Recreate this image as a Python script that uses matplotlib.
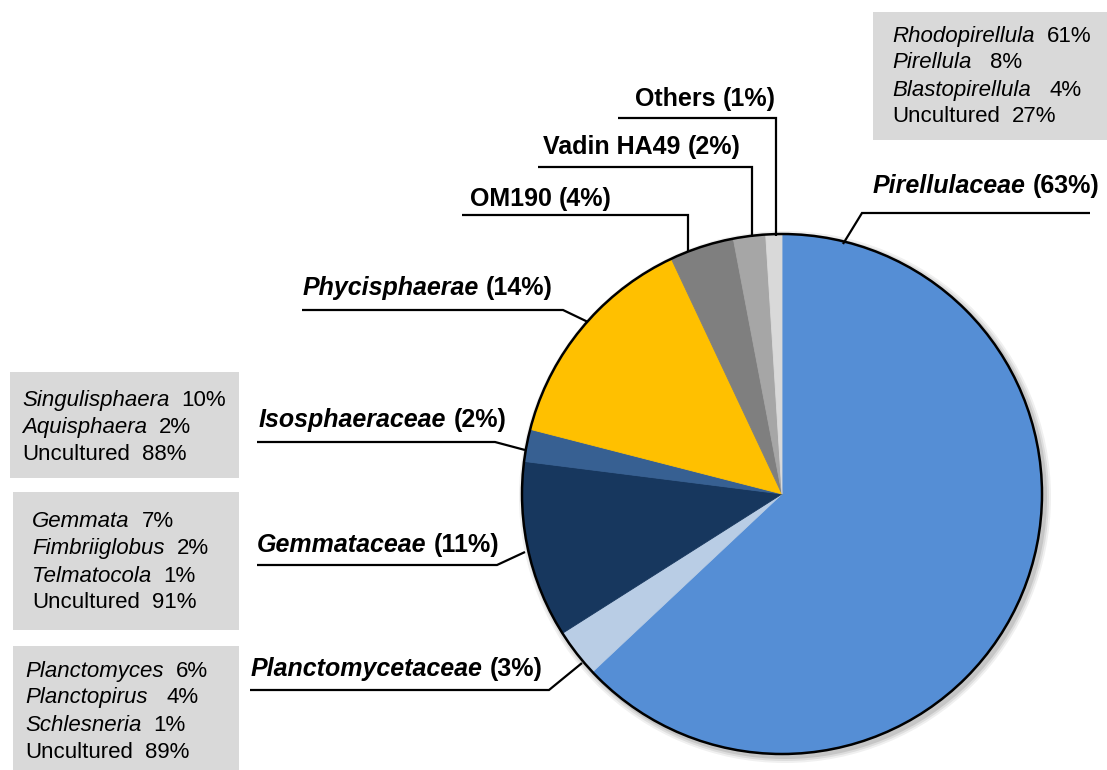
import matplotlib
matplotlib.use('Agg')
import matplotlib.pyplot as plt
from matplotlib.patches import Circle, Rectangle

# ---------------- data ----------------
groups = ['Pirellulaceae', 'Planctomycetaceae', 'Gemmataceae', 'Isosphaeraceae',
          'Phycisphaerae', 'OM190', 'Vadin HA49', 'Others']
percent = [63, 3, 11, 2, 14, 4, 2, 1]
italic_name = [True, True, True, True, True, False, False, False]
colors = ['#558ED5', '#B9CDE5', '#17375E', '#376092',
          '#FFC000', '#7F7F7F', '#A6A6A6', '#D9D9D9']

pirellulaceae_genera = ['Rhodopirellula', 'Pirellula', 'Blastopirellula', 'Uncultured']
pirellulaceae_pct = [61, 8, 4, 27]
isosphaeraceae_genera = ['Singulisphaera', 'Aquisphaera', 'Uncultured']
isosphaeraceae_pct = [10, 2, 88]
gemmataceae_genera = ['Gemmata', 'Fimbriiglobus', 'Telmatocola', 'Uncultured']
gemmataceae_pct = [7, 2, 1, 91]
planctomycetaceae_genera = ['Planctomyces', 'Planctopirus', 'Schlesneria', 'Uncultured']
planctomycetaceae_pct = [6, 4, 1, 89]

# ---------------- layout ----------------
W, H = 1107, 770
FONT = 'Liberation Sans'
fig = plt.figure(figsize=(W / 100, H / 100), dpi=100)
ax = fig.add_axes([0, 0, 1, 1])
renderer = fig.canvas.get_renderer()


def Y(p):
    return H - p


cx, cy, R = 782, 494, 260

# soft shadow
for k, a in [(6, 0.06), (4, 0.08), (2, 0.10)]:
    ax.add_patch(Circle((cx + 3, Y(cy) - 3), R + k, color='black', alpha=a, lw=0, zorder=0))

wedges, _ = ax.pie(percent, colors=colors, startangle=90, counterclock=False,
                   center=(cx, Y(cy)), radius=R, frame=False,
                   wedgeprops=dict(linewidth=0.6, zorder=2))
for w, c in zip(wedges, colors):
    w.set_edgecolor(c)
ax.add_patch(Circle((cx, Y(cy)), R, fill=False, ec='black', lw=1.8, zorder=3))

ax.set_xlim(0, W)
ax.set_ylim(0, H)
ax.set_aspect('equal')
ax.axis('off')


def runs(x, yb, parts, size):
    space = size * 100 / 72 * 0.278
    for txt, style, weight, nsp in parts:
        t = ax.text(x, Y(yb), txt, fontsize=size, style=style, weight=weight,
                    ha='left', va='baseline', family=FONT, color='black', zorder=5)
        bb = t.get_window_extent(renderer=renderer)
        x = bb.x1 + nsp * space


# main labels: (left x, baseline)
label_pos = {
    'Pirellulaceae': (873, 193),
    'Others': (635, 106),
    'Vadin HA49': (543, 154),
    'OM190': (470, 206),
    'Phycisphaerae': (303, 295),
    'Isosphaeraceae': (259, 427),
    'Gemmataceae': (257, 552),
    'Planctomycetaceae': (251, 676),
}
leaders = {
    'Pirellulaceae': [(843, 244), (862, 213), (1090, 213)],
    'Others': [(618, 118), (776, 118), (776, 236)],
    'Vadin HA49': [(538, 167), (752, 167), (752, 237)],
    'OM190': [(462, 215), (688, 215), (688, 252)],
    'Phycisphaerae': [(302, 310), (563, 310), (588, 322)],
    'Isosphaeraceae': [(257, 442), (495, 442), (525, 450)],
    'Gemmataceae': [(257, 565), (497, 565), (525, 552)],
    'Planctomycetaceae': [(250, 690), (549, 690), (582, 663)],
}

for g, p, it in zip(groups, percent, italic_name):
    x, yb = label_pos[g]
    runs(x, yb, [(g, 'italic' if it else 'normal', 'bold', 1),
                 (f'({p}%)', 'normal', 'bold', 0)], 18)
    pts = leaders[g]
    ax.plot([q[0] for q in pts], [Y(q[1]) for q in pts], color='black', lw=1.6,
            zorder=4, solid_capstyle='butt', solid_joinstyle='miter')

# grey boxes
wide_gap = {'Pirellula', 'Blastopirellula', 'Planctopirus'}
boxes = [
    (pirellulaceae_genera, pirellulaceae_pct, (873, 12, 1107, 140), 892, [42, 68, 96, 122]),
    (isosphaeraceae_genera, isosphaeraceae_pct, (10, 372, 239, 478), 22, [406, 433, 460]),
    (gemmataceae_genera, gemmataceae_pct, (13, 492, 239, 630), 32, [527, 554, 582, 608]),
    (planctomycetaceae_genera, planctomycetaceae_pct, (13, 646, 239, 770), 25, [677, 703, 731, 758]),
]
for genera, pcts, (x0, y0, x1, y1), tx, bases in boxes:
    ax.add_patch(Rectangle((x0, Y(y1)), x1 - x0, y1 - y0, facecolor='#D9D9D9',
                           edgecolor='none', zorder=1))
    for gname, pv, yb in zip(genera, pcts, bases):
        style = 'normal' if gname == 'Uncultured' else 'italic'
        gap = 3 if gname in wide_gap else 2
        runs(tx, yb, [(gname, style, 'normal', gap), (f'{pv}%', 'normal', 'normal', 0)], 16)

fig.savefig('out.png', dpi=100, facecolor='white')
